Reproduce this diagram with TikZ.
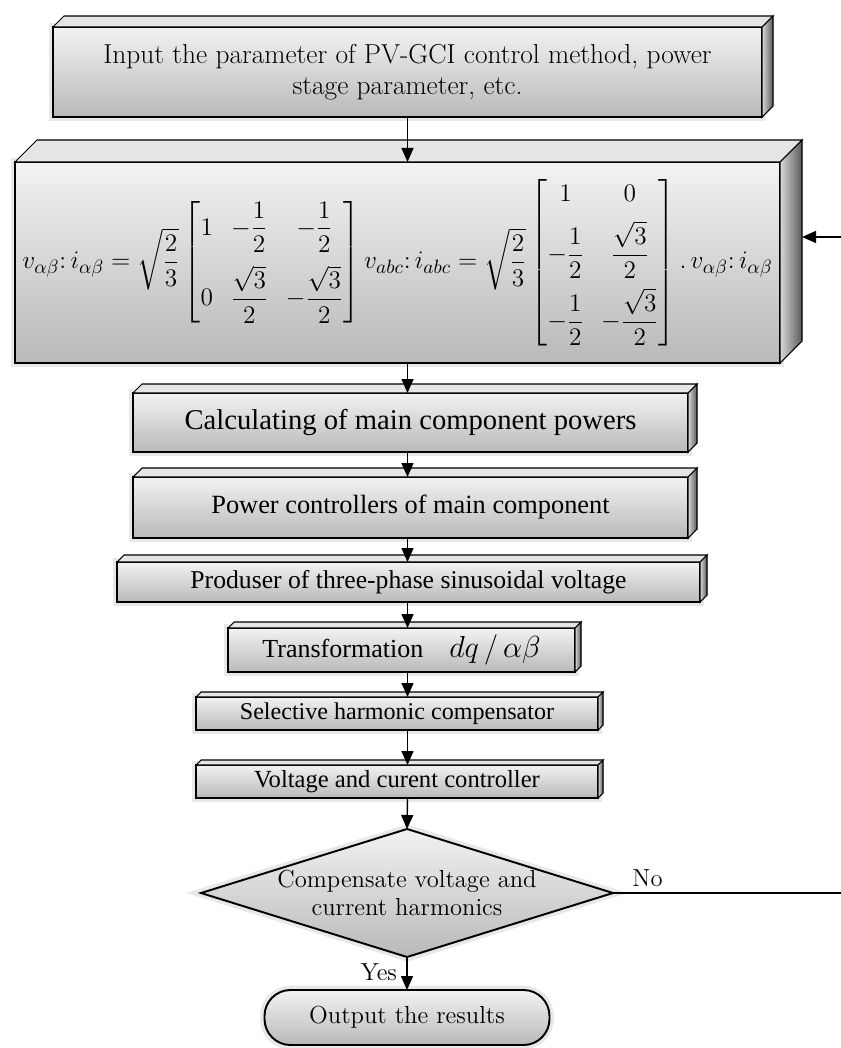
\documentclass[tikz,border=0pt]{standalone}
\usepackage{amsmath}
\usepackage{fontspec}
\newfontfamily\tnr{Liberation Serif}
\usetikzlibrary{positioning}
\usetikzlibrary{shapes.geometric}
\usetikzlibrary{arrows.meta}

\tikzset{
  stagebox/.style={draw, rectangle, line width=1.1pt, outer sep=0pt, inner sep=2pt,
    top color=gray!10, middle color=gray!38, bottom color=gray!55,
    preaction={draw=gray!18, line width=5pt}},
  decision/.style={draw, diamond, aspect=3.2, line width=1.1pt, outer sep=0pt, inner sep=-0.3cm,
    minimum width=8.24cm, minimum height=2.56cm,
    top color=gray!10, middle color=gray!38, bottom color=gray!55,
    preaction={draw=gray!18, line width=5pt}, font=\fontsize{14}{16}\selectfont},
  endbox/.style={draw, rectangle, rounded corners=0.52cm, line width=1.1pt, outer sep=0pt,
    minimum width=5.7cm, minimum height=1.1cm,
    top color=gray!10, middle color=gray!38, bottom color=gray!55,
    preaction={draw=gray!18, line width=5pt}, font=\fontsize{14}{16}\selectfont},
  topface/.style={fill=gray!20, draw=black, line width=0.6pt},
  sideface/.style={left color=gray!30, right color=black!65, draw=black, line width=0.6pt},
  arr/.style={-{Triangle[length=2.8mm,width=2.4mm]}, line width=0.8pt},
}

\begin{document}
\begin{tikzpicture}[node distance=0.5cm, align=center]
        \useasboundingbox (0,0) rectangle (16.8,-20.96);
        \node[stagebox, minimum width=14.18cm, minimum height=1.8cm, font=\fontsize{15.6}{17.5}\selectfont] (inp) at (8.15,-1.44) {Input the parameter of PV-GCI control method, power\\stage parameter, etc.};
        \node[stagebox, below=0.9cm of inp, xshift=-0.2cm, minimum width=15.3cm, minimum height=4.02cm, font=\fontsize{15}{18}\selectfont] (mat) {$v_{\alpha\beta}{:}\,i_{\alpha\beta}=\sqrt{\dfrac{2}{3}}\begin{bmatrix}1 & -\dfrac{1}{2} & -\dfrac{1}{2}\\[12pt] 0 & \dfrac{\sqrt{3}}{2} & -\dfrac{\sqrt{3}}{2}\end{bmatrix} v_{abc}{:}\,i_{abc}=\sqrt{\dfrac{2}{3}}\begin{bmatrix}1 & 0\\[6pt] -\dfrac{1}{2} & \dfrac{\sqrt{3}}{2}\\[10pt] -\dfrac{1}{2} & -\dfrac{\sqrt{3}}{2}\end{bmatrix}.\,v_{\alpha\beta}{:}\,i_{\alpha\beta}$};
        \node[stagebox, below=0.6cm of mat, xshift=0.26cm, minimum width=11.1cm, minimum height=1.18cm, font=\tnr\fontsize{16.3}{18}\selectfont] (calc) {Calculating of main component powers};
        \node[stagebox, below=0.5cm of calc, minimum width=11.1cm, minimum height=1.22cm, font=\tnr\fontsize{15}{18}\selectfont] (pow) {Power controllers of main component};
        \node[stagebox, below=0.48cm of pow, xshift=-0.04cm, minimum width=11.66cm, minimum height=0.8cm, font=\tnr\fontsize{14.6}{18}\selectfont] (prod) {Produser of three-phase sinusoidal voltage};
        \node[stagebox, below=0.52cm of prod, xshift=-0.14cm, minimum width=6.94cm, minimum height=0.88cm, font=\tnr\fontsize{14.8}{16}\selectfont] (trans) {Transformation\quad{\fontsize{18}{18}\selectfont$dq\,/\,\alpha\beta$}};
        \node[stagebox, below=0.5cm of trans, xshift=-0.09cm, minimum width=8.04cm, minimum height=0.66cm, font=\tnr\fontsize{13.7}{16}\selectfont] (sel) {Selective harmonic compensator};
        \node[stagebox, below=0.7cm of sel, minimum width=8.04cm, minimum height=0.66cm, font=\tnr\fontsize{14}{16}\selectfont] (volt) {Voltage and curent controller};
        \node[decision, below=0.62cm of volt, xshift=0.2cm] (dia) {Compensate voltage and\\current harmonics};
        \node[endbox, below=0.66cm of dia] (out) {Output the results};
        % depth of the slabs
        \foreach \n/\dep in {inp/0.22, mat/0.44, calc/0.18, pow/0.18, prod/0.14, trans/0.12, sel/0.1, volt/0.1}{
            \filldraw[topface] (\n.north west) -- ++(\dep,\dep) -- ([shift={(\dep,\dep)}]\n.north east) -- (\n.north east) -- cycle;
            \filldraw[sideface] (\n.north east) -- ++(\dep,\dep) -- ([shift={(\dep,\dep)}]\n.south east) -- (\n.south east) -- cycle;
        }
        \coordinate (edge) at (16.86,0);
        \coordinate (ret) at ([shift={(0.44cm,0.51cm)}]mat.east);
        \draw[arr] (inp.south) -- (inp.south |- mat.north);
        \draw[arr] (mat.south -| inp) -- (calc.north -| inp);
        \draw[arr] (calc.south -| inp) -- (pow.north -| inp);
        \draw[arr] (pow.south -| inp) -- (prod.north -| inp);
        \draw[arr] (prod.south -| inp) -- (trans.north -| inp);
        \draw[arr] (trans.south -| inp) -- (sel.north -| inp);
        \draw[arr] (sel.south -| inp) -- (volt.north -| inp);
        \draw[arr] (volt.south -| inp) -- (dia.north);
        \draw[arr] (dia.south) -- node[left, pos=0.45, xshift=-2pt, font=\fontsize{14}{16}\selectfont] {Yes} (out.north);
        \draw[arr] (dia.east) -- node[above, pos=0.15, font=\fontsize{14}{16}\selectfont] {No} (dia.east -| edge) -- (edge |- ret) -- (ret);
    \end{tikzpicture}
\end{document}
